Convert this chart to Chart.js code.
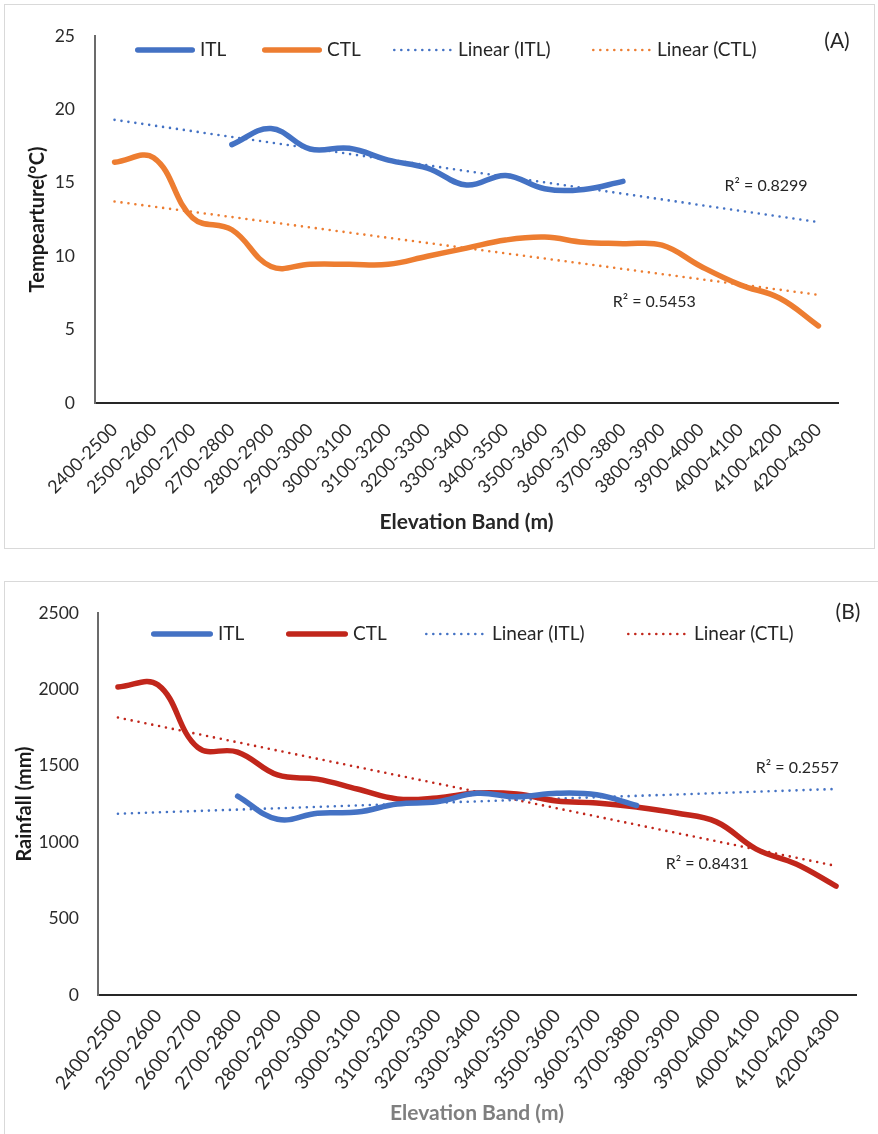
<!DOCTYPE html>
<html>
<head>
<meta charset="utf-8">
<script src="https://cdn.jsdelivr.net/npm/chart.js@4.4.1/dist/chart.umd.min.js"></script>
<style>
  html, body { margin: 0; padding: 0; background: #fff; overflow: hidden; }
  body { width: 878px; height: 1134px; position: relative; }
  .panel { position: absolute; border: 1.5px solid #d9d9d9; box-sizing: border-box; }
  canvas { position: absolute; left: 0; }
</style>
</head>
<body>
<div class="panel" style="left:4px; top:4px; width:871px; height:545px;"></div>
<div class="panel" style="left:4px; top:581px; width:900px; height:600px;"></div>
<canvas id="chartTemp" width="878" height="560" style="top:0px;"></canvas>
<canvas id="chartRain" width="878" height="559" style="top:575px;"></canvas>
<script>
// Elevation bands shared by both panels
const bands = ['2400-2500', '2500-2600', '2600-2700', '2700-2800', '2800-2900', '2900-3000',
  '3000-3100', '3100-3200', '3200-3300', '3300-3400', '3400-3500', '3500-3600', '3600-3700',
  '3700-3800', '3800-3900', '3900-4000', '4000-4100', '4100-4200', '4200-4300'];

// (A) mean temperature, °C
const tempITL = [null, null, null, 17.6, 18.7, 17.3, 17.35, 16.55, 16.0, 14.85, 15.5, 14.6, 14.55, 15.1,
  null, null, null, null, null];
const tempCTL = [16.4, 16.7, 12.6, 11.8, 9.3, 9.45, 9.45, 9.45, 10.0, 10.55, 11.1, 11.3, 10.95, 10.85,
  10.75, 9.3, 8.05, 7.15, 5.25];
const tempTicks = [0, 5, 10, 15, 20, 25];
const tempR2 = ['R² = 0.8299', 'R² = 0.5453'];

// (B) rainfall, mm
const rainITL = [null, null, null, 1302, 1150, 1190, 1197, 1250, 1265, 1320, 1297, 1320, 1310, 1240,
  null, null, null, null, null];
const rainCTL = [2016, 2030, 1620, 1590, 1440, 1413, 1348, 1283, 1290, 1322, 1315, 1270, 1257, 1230,
  1191, 1133, 955, 857, 713];
const rainTicks = [0, 500, 1000, 1500, 2000, 2500];
const rainR2 = ['R² = 0.2557', 'R² = 0.8431'];

const FONT = 'Lato, "Liberation Sans", sans-serif';
const BLUE = '#4472C4', ORANGE = '#ED7D31', RED = '#C1261B';

// Least-squares straight line through the non-empty values, evaluated at every band
function linearFit(values) {
  const pts = values.map((v, i) => [i, v]).filter(p => p[1] !== null);
  const n = pts.length;
  const mx = pts.reduce((s, p) => s + p[0], 0) / n;
  const my = pts.reduce((s, p) => s + p[1], 0) / n;
  let sxy = 0, sxx = 0;
  pts.forEach(p => { sxy += (p[0] - mx) * (p[1] - my); sxx += (p[0] - mx) ** 2; });
  const b = sxy / sxx, a = my - b * mx;
  return values.map((_, i) => a + b * i);
}

function seriesSet(itl, ctl, ctlColor) {
  const solid = (label, data, color) => ({
    label, data, borderColor: color, backgroundColor: color, borderWidth: 5.5,
    tension: 0.4, pointRadius: 0, pointHoverRadius: 0, borderCapStyle: 'round',
    borderJoinStyle: 'round', fill: false, spanGaps: false
  });
  const dotted = (label, data, color) => ({
    label, data, borderColor: color, backgroundColor: color, borderWidth: 2.6,
    borderDash: [0, 7], borderCapStyle: 'round', tension: 0, pointRadius: 0,
    pointHoverRadius: 0, fill: false
  });
  return [
    solid('ITL', itl, BLUE),
    solid('CTL', ctl, ctlColor),
    dotted('Linear (ITL)', linearFit(itl), BLUE),
    dotted('Linear (CTL)', linearFit(ctl), ctlColor)
  ];
}

// Legend inside the plot, R² notes and the panel tag
const decorPlugin = {
  id: 'decor',
  afterDatasetsDraw(chart, args, o) {
    const ctx = chart.ctx;
    ctx.save();
    ctx.textBaseline = 'middle';
    ctx.textAlign = 'left';
    ctx.font = o.legendFont;
    const y = o.legendY;
    chart.data.datasets.forEach((ds, i) => {
      const x = o.legendSlots[i];
      ctx.beginPath();
      ctx.strokeStyle = ds.borderColor;
      ctx.lineWidth = ds.borderWidth;
      ctx.lineCap = 'round';
      ctx.setLineDash(ds.borderDash || []);
      const inset = ds.borderDash ? 1.3 : ds.borderWidth / 2;
      ctx.moveTo(x + inset, y);
      ctx.lineTo(x + o.sampleW - inset, y);
      ctx.stroke();
      ctx.setLineDash([]);
      ctx.fillStyle = o.textColor;
      ctx.fillText(ds.label, x + o.sampleW + o.textGap, y);
    });
    ctx.font = o.noteFont;
    ctx.textAlign = 'center';
    ctx.fillStyle = o.textColor;
    const sx = chart.scales.x, sy = chart.scales.y;
    o.notes.forEach(n => {
      ctx.fillText(n.text, sx.getPixelForValue(n.at[0]), sy.getPixelForValue(n.at[1]));
    });
    ctx.font = o.tagFont;
    ctx.fillText(o.tag, o.tagPos[0], o.tagPos[1]);
    ctx.restore();
  }
};

function buildChart(id, cfg) {
  const canvas = document.getElementById(id);
  const H = canvas.height;
  return new Chart(canvas, {
    type: 'line',
    data: { labels: bands, datasets: cfg.datasets },
    options: {
      responsive: false,
      animation: false,
      events: [],
      layout: { padding: { left: 0, right: cfg.padRight, top: cfg.plotTop, bottom: 0 } },
      plugins: {
        legend: { display: false },
        tooltip: { enabled: false },
        decor: cfg.decor
      },
      scales: {
        x: {
          type: 'category',
          offset: true,
          grid: { display: false, drawTicks: false, offset: true },
          border: { display: true, color: '#262626', width: 2 },
          ticks: {
            autoSkip: false, maxRotation: cfg.xTickAngle, minRotation: cfg.xTickAngle,
            padding: cfg.xTickPad, color: '#2b2b2b', font: { family: FONT, size: cfg.xTickSize }
          },
          title: {
            display: true, text: 'Elevation Band (m)', color: cfg.xTitleColor,
            font: { family: FONT, size: 21, weight: 'bold' },
            padding: { top: 0, bottom: cfg.xTitlePad }
          },
          afterFit(s) { s.height = H - cfg.plotBottom; }
        },
        y: {
          min: 0, max: cfg.ticks[cfg.ticks.length - 1],
          afterBuildTicks(s) { s.ticks = cfg.ticks.map(v => ({ value: v })); },
          grid: { display: false, drawTicks: false },
          border: { display: true, color: '#6b6b6b', width: 2 },
          ticks: {
            padding: cfg.yTickPad, color: '#2b2b2b', font: { family: FONT, size: 17.5 },
            callback: v => String(v)
          },
          title: {
            display: true, text: cfg.yTitle, color: '#1a1a1a',
            font: { family: FONT, size: 20, weight: 'bold' },
            padding: { top: cfg.yTitlePad, bottom: 0 }
          },
          afterFit(s) { s.width = cfg.plotLeft; }
        }
      }
    },
    plugins: [decorPlugin]
  });
}

buildChart('chartTemp', {
  datasets: seriesSet(tempITL, tempCTL, ORANGE),
  ticks: tempTicks,
  yTitle: 'Tempearture(°C)',
  xTitleColor: '#262626',
  plotLeft: 95, padRight: 40, plotTop: 36, plotBottom: 403,
  yTickPad: 20, yTitlePad: 26, xTitlePad: 25,
  xTickPad: 16, xTickSize: 18, xTickAngle: 45,
  decor: {
    legendSlots: [135, 262, 393, 592], legendY: 50, sampleW: 60, textGap: 5,
    legendFont: '19px ' + FONT, noteFont: '16px ' + FONT, tagFont: '21px ' + FONT,
    textColor: '#262626',
    notes: [{ text: tempR2[0], at: [16.66, 14.78] }, { text: tempR2[1], at: [13.8, 6.88] }],
    tag: '(A)', tagPos: [837, 41]
  }
});

buildChart('chartRain', {
  datasets: seriesSet(rainITL, rainCTL, RED),
  ticks: rainTicks,
  yTitle: 'Rainfall (mm)',
  xTitleColor: '#7f7f7f',
  plotLeft: 98, padRight: 22, plotTop: 38, plotBottom: 420,
  yTickPad: 19, yTitlePad: 13, xTitlePad: 8,
  xTickPad: 10, xTickSize: 19, xTickAngle: 52,
  decor: {
    legendSlots: [151, 286, 425, 627], legendY: 59, sampleW: 62, textGap: 5,
    legendFont: '19px ' + FONT, noteFont: '16px ' + FONT, tagFont: '21px ' + FONT,
    textColor: '#262626',
    notes: [{ text: rainR2[0], at: [17.03, 1486] }, { text: rainR2[1], at: [14.77, 857] }],
    tag: '(B)', tagPos: [848, 37]
  }
});
</script>
</body>
</html>
